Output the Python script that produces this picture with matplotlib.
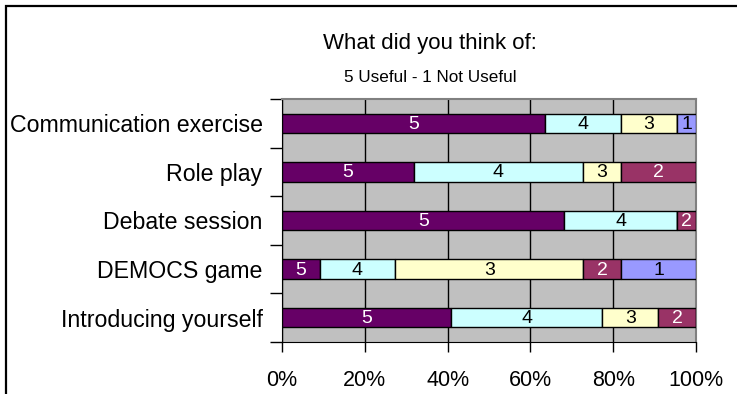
import numpy as np
import matplotlib
matplotlib.use("Agg")
import matplotlib.pyplot as plt
from matplotlib.patches import Rectangle

plt.rcParams['font.family'] = ['Liberation Sans', 'DejaVu Sans']

# data (percent of answers)
categories = ["Communication exercise", "Role play", "Debate session",
              "DEMOCS game", "Introducing yourself"]
scores = ["5", "4", "3", "2", "1"]
pct5 = [63.6, 31.8, 68.2, 9.1, 40.9]
pct4 = [18.2, 40.9, 27.3, 18.2, 36.4]
pct3 = [13.6, 9.1, 0.0, 45.5, 13.6]
pct2 = [0.0, 18.2, 4.5, 9.1, 9.1]
pct1 = [4.6, 0.0, 0.0, 18.1, 0.0]
xticks = [0, 20, 40, 60, 80, 100]

colors = ["#660066", "#CCFFFF", "#FFFFCC", "#993366", "#9999FF"]
txtcol = ["white", "black", "black", "white", "black"]

W, H = 737, 394
fig = plt.figure(figsize=(W / 100, H / 100), dpi=100)
fig.patch.set_facecolor("white")

# outer chart border (runs off the right and bottom edges)
fig.patches.append(Rectangle((6 / W, -0.1), 1.2, 1 - 6 / H + 0.1,
                             transform=fig.transFigure, fill=False,
                             edgecolor="black", linewidth=1.6))

ax = fig.add_axes([282 / W, 52 / H, 414 / W, 243 / H])
ax.set_facecolor("#C0C0C0")

y = np.arange(len(categories))
left = np.zeros(len(categories))
for i, vals in enumerate([pct5, pct4, pct3, pct2, pct1]):
    vals = np.array(vals)
    ax.barh(y, vals, left=left, height=0.4, color=colors[i], edgecolor="black",
            linewidth=1.0, zorder=3)
    for yi, l, v in zip(y, left, vals):
        if v > 0:
            ax.text(l + v / 2, yi + 0.02, scores[i], ha="center",
                    va="center", color=txtcol[i], fontsize=14, zorder=4)
    left = left + vals

ax.set_xlim(0, 100)
ax.set_ylim(len(categories) - 0.5, -0.5)
ax.set_xticks(xticks)
ax.set_xticklabels([f"{t}%" for t in xticks], fontsize=15.5)
ax.tick_params(axis="x", direction="out", length=7, width=1, pad=13)
ax.xaxis.grid(True, color="black", linewidth=1.0, zorder=1)
ax.set_axisbelow(True)

ax.set_yticks(np.arange(len(categories) + 1) - 0.5)
ax.set_yticklabels([])
ax.tick_params(axis="y", which="major", direction="out", length=9, width=1)
ax.set_yticks(y, minor=True)
ax.set_yticklabels(categories, minor=True, fontsize=16.7)
ax.tick_params(axis="y", which="minor", length=0, pad=14)

for s in ["left", "bottom"]:
    ax.spines[s].set_color("black")
for s in ["top", "right"]:
    ax.spines[s].set_color("#808080")
    ax.spines[s].set_linewidth(1.5)

fig.text(430 / W, 1 - 43 / H, "What did you think of:", ha="center",
         va="center", fontsize=16)
fig.text(430 / W, 1 - 78 / H, "5 Useful - 1 Not Useful", ha="center",
         va="center", fontsize=12.3)

fig.savefig("out.png", dpi=100)
